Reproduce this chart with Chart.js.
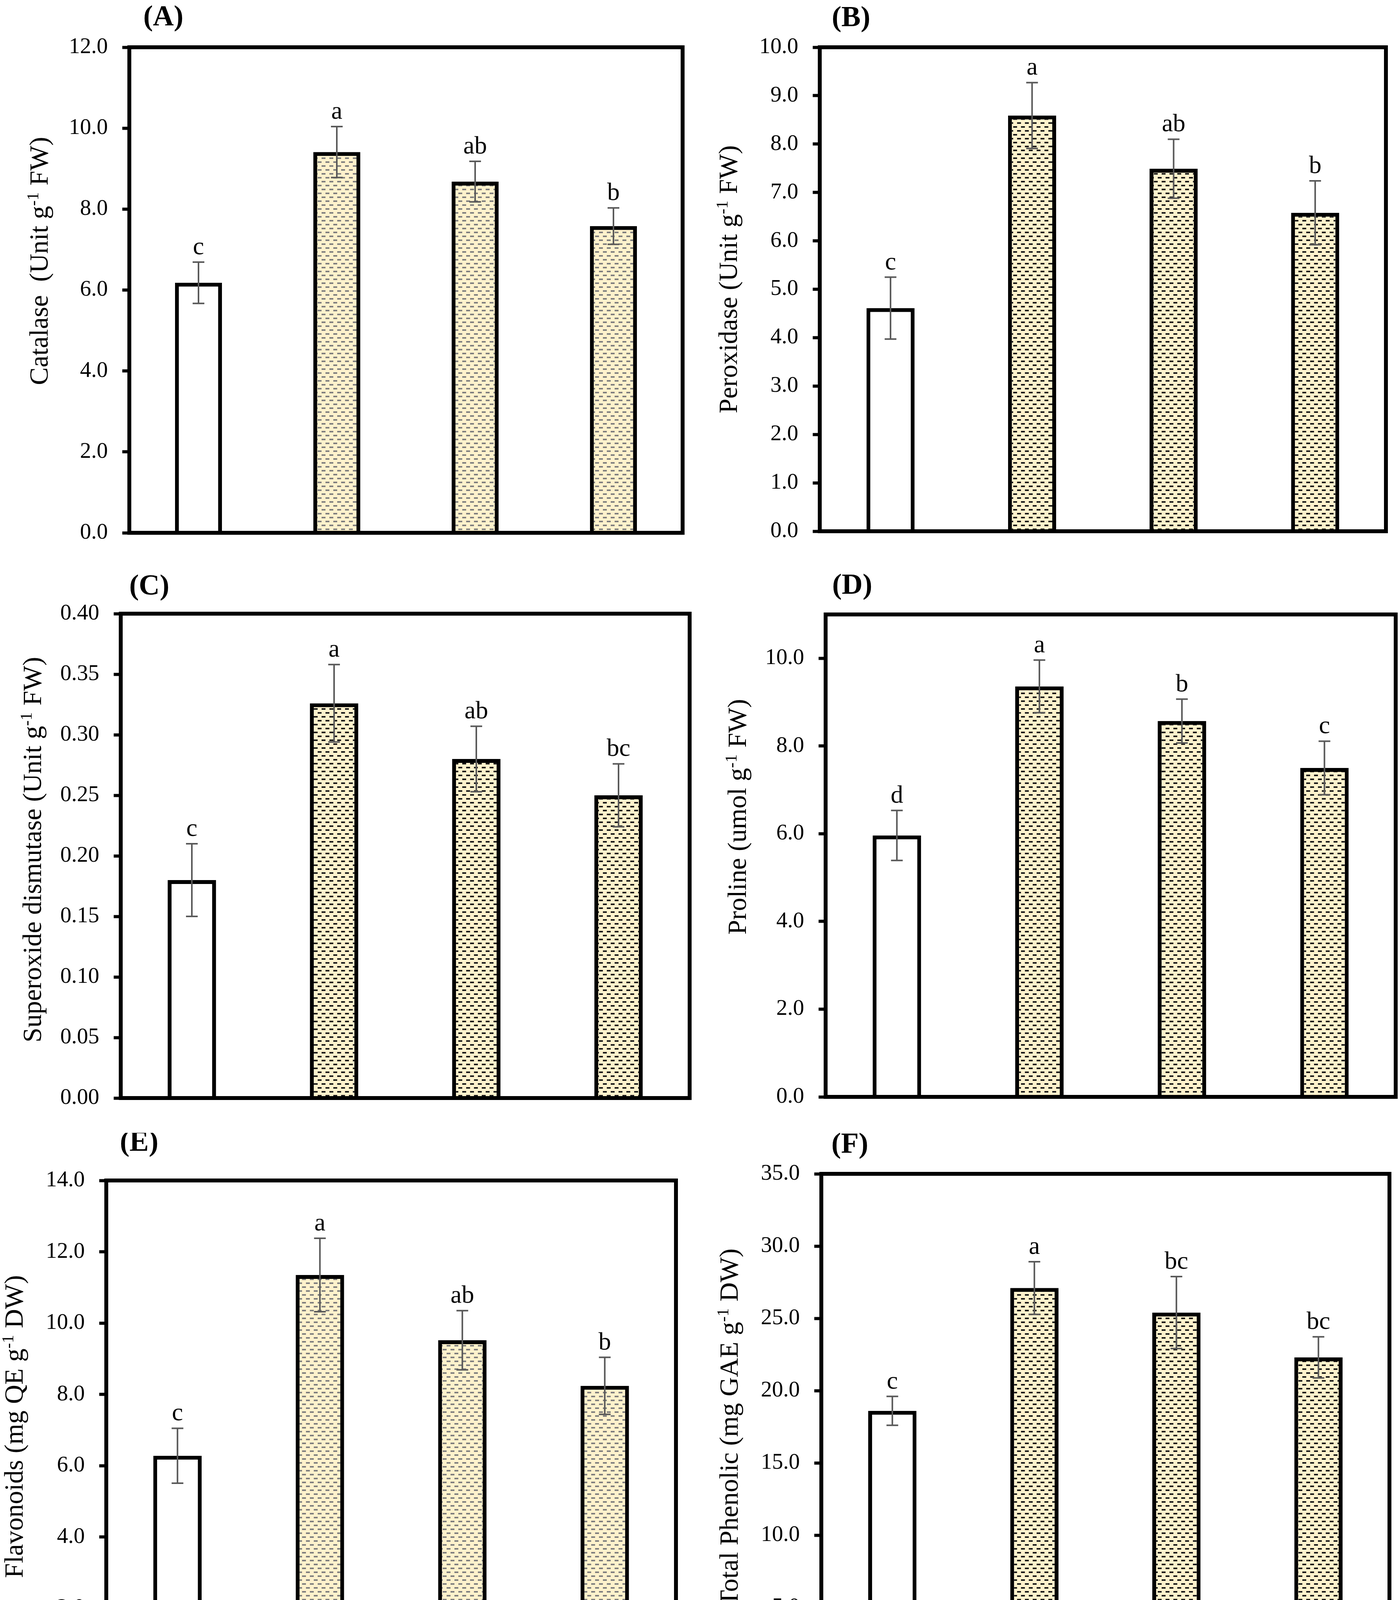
<!DOCTYPE html>
<html>
<head>
<meta charset="utf-8">
<script src="https://cdn.jsdelivr.net/npm/chart.js@4.4.0/dist/chart.umd.min.js"></script>
<style>
  html, body { margin: 0; padding: 0; background: #fff; }
  body { width: 3583px; height: 4520px; position: relative; overflow: hidden; }
  .panel { position: absolute; }
</style>
</head>
<body>
<div class="panel" style="left:0px;top:0px"><canvas id="chartA" width="1790" height="1450"></canvas></div>
<div class="panel" style="left:1790px;top:0px"><canvas id="chartB" width="1793" height="1450"></canvas></div>
<div class="panel" style="left:0px;top:1450px"><canvas id="chartC" width="1790" height="1450"></canvas></div>
<div class="panel" style="left:1790px;top:1450px"><canvas id="chartD" width="1793" height="1450"></canvas></div>
<div class="panel" style="left:0px;top:2900px"><canvas id="chartE" width="1790" height="1620"></canvas></div>
<div class="panel" style="left:1790px;top:2900px"><canvas id="chartF" width="1793" height="1620"></canvas></div>
<script>
const categories = ['NPs 0', 'NPs 75', 'NPs 150', 'NPs 300'];

// (A) catalase
const catalase = [6.18, 9.41, 8.68, 7.58];
const catalaseErr = [0.51, 0.63, 0.50, 0.45];
const catalaseLetters = ['c', 'a', 'ab', 'b'];
const catalaseAxis = [0, 12, 2];

// (B) peroxidase
const peroxidase = [4.61, 8.59, 7.49, 6.58];
const peroxidaseErr = [0.64, 0.68, 0.61, 0.66];
const peroxidaseLetters = ['c', 'a', 'ab', 'b'];
const peroxidaseAxis = [0, 10, 1];

// (C) superoxide dismutase
const sod = [0.180, 0.326, 0.280, 0.250];
const sodErr = [0.030, 0.032, 0.027, 0.026];
const sodLetters = ['c', 'a', 'ab', 'bc'];
const sodAxis = [0, 0.40, 0.05];

// (D) proline
const proline = [5.96, 9.36, 8.57, 7.50];
const prolineErr = [0.57, 0.60, 0.50, 0.61];
const prolineLetters = ['d', 'a', 'b', 'c'];
const prolineAxis = [0, 11, 2];

// (E) flavonoids
const flavonoids = [6.28, 11.35, 9.52, 8.24];
const flavonoidsErr = [0.77, 1.03, 0.83, 0.80];
const flavonoidsLetters = ['c', 'a', 'ab', 'b'];
const flavonoidsAxis = [0, 14, 2];

// (F) total phenolic
const phenolic = [18.6, 27.1, 25.4, 22.3];
const phenolicErr = [1.00, 1.82, 2.49, 1.42];
const phenolicLetters = ['c', 'a', 'bc', 'bc'];
const phenolicAxis = [0, 35, 5];

const SERIF = "'Liberation Serif', 'Times New Roman', serif";

function dashPattern(dashColor) {
    const c = document.createElement('canvas');
    c.width = 20;
    c.height = 20;
    const g = c.getContext('2d');
    g.fillStyle = '#FFF2CC';
    g.fillRect(0, 0, 20, 20);
    g.fillStyle = dashColor;
    g.fillRect(3, 3, 10, 4);
    g.fillRect(13, 13, 10, 4);
    g.fillRect(-7, 13, 10, 4);
    return g.createPattern(c, 'repeat');
}

function fontOf(p, size, weight) {
    const s = p.sup || p.sub ? Math.round(size * 0.62) : size;
    return (p.italic ? 'italic ' : '') + weight + ' ' + s + 'px ' + SERIF;
}

// text with superscript / subscript parts, centred on x, baseline at y
function drawRich(ctx, parts, x, y, size, weight, angle) {
    ctx.save();
    ctx.translate(x, y);
    ctx.rotate(angle);
    ctx.fillStyle = '#000';
    ctx.textAlign = 'left';
    ctx.textBaseline = 'alphabetic';
    let total = 0;
    parts.forEach(p => {
        ctx.font = fontOf(p, size, weight);
        total += ctx.measureText(p.t).width;
    });
    let cx = -total / 2;
    parts.forEach(p => {
        ctx.font = fontOf(p, size, weight);
        let dy = 0;
        if (p.sup) dy = -0.36 * size;
        if (p.sub) dy = 0.06 * size;
        ctx.fillText(p.t, cx, dy);
        cx += ctx.measureText(p.t).width;
    });
    ctx.restore();
}

function unitParts(name, unit, base) {
    return [{ t: name + ' (' + unit + ' g' }, { t: '-1', sup: true }, { t: ' ' + base + ')' }];
}

const xTitleParts = [
    { t: 'n', italic: true }, { t: 'CeO' }, { t: '2', sub: true },
    { t: ' concentration (mg L' }, { t: '-1', sup: true }, { t: ')' }
];

function makePanel(cfg) {
    const canvas = document.getElementById(cfg.id);
    const ctx = canvas.getContext('2d');
    const fill = dashPattern(cfg.dash);

    //boite, barres d'erreur, lettres et titres
    const decor = {
        id: 'decor_' + cfg.id,
        afterDatasetsDraw(chart) {
            const c = chart.ctx;
            const area = chart.chartArea;
            const y = chart.scales.y;
            const bars = chart.getDatasetMeta(0).data;

            c.save();
            c.strokeStyle = '#000';
            c.lineWidth = 10;
            c.strokeRect(area.left, area.top, area.right - area.left, area.bottom - area.top);

            c.strokeStyle = '#595959';
            c.lineWidth = 4;
            c.lineCap = 'butt';
            c.fillStyle = '#000';
            c.font = '64px ' + SERIF;
            c.textAlign = 'center';
            c.textBaseline = 'alphabetic';
            bars.forEach((bar, i) => {
                const v = cfg.values[i];
                const hi = y.getPixelForValue(v + cfg.err[i]);
                const lo = y.getPixelForValue(v - cfg.err[i]);
                c.beginPath();
                c.moveTo(bar.x, hi);
                c.lineTo(bar.x, lo);
                c.moveTo(bar.x - 15, hi);
                c.lineTo(bar.x + 15, hi);
                c.moveTo(bar.x - 15, lo);
                c.lineTo(bar.x + 15, lo);
                c.stroke();
                c.fillText(cfg.letters[i], bar.x, hi - 20);
            });

            c.font = 'bold 74px ' + SERIF;
            c.textBaseline = 'middle';
            c.fillText(cfg.title, cfg.titlePos[0] - cfg.offset[0], cfg.titlePos[1] - cfg.offset[1]);
            c.restore();

            drawRich(c, cfg.yTitle, cfg.yTitlePos[0] + 18 - cfg.offset[0], cfg.yTitlePos[1] - cfg.offset[1], 68, 'normal', -Math.PI / 2);
            if (cfg.xTitle) {
                drawRich(c, xTitleParts, cfg.xTitlePos[0] - cfg.offset[0], cfg.xTitlePos[1] - cfg.offset[1], 68, 'bold', 0);
            }
        }
    };

    new Chart(ctx, {
        type: 'bar',
        data: {
            labels: categories,
            datasets: [{
                data: cfg.values,
                backgroundColor: ['#ffffff', fill, fill, fill],
                borderColor: '#000000',
                borderWidth: 10,
                categoryPercentage: 1,
                barPercentage: 0.34
            }]
        },
        options: {
            responsive: false,
            animation: false,
            devicePixelRatio: 1,
            layout: { padding: cfg.padding },
            plugins: { legend: { display: false }, tooltip: { enabled: false } },
            scales: {
                x: cfg.xTitle ? {
                    afterFit: s => { s.height = 120; },
                    border: { display: false },
                    grid: { offset: true, drawOnChartArea: false, drawTicks: true, tickLength: 23, tickWidth: 8, color: '#000' },
                    ticks: {
                        padding: 12, color: '#000', maxRotation: 0, autoSkip: false,
                        font: { family: SERIF, size: 61, weight: 'bold' }
                    }
                } : { display: false },
                y: {
                    min: cfg.axis[0],
                    max: cfg.axis[1],
                    afterFit: s => { s.width = cfg.yWidth; },
                    border: { display: false },
                    grid: { drawOnChartArea: false, drawTicks: true, tickLength: 18, tickWidth: 8, color: '#000' },
                    ticks: {
                        stepSize: cfg.axis[2],
                        includeBounds: false,
                        padding: 37,
                        color: '#000',
                        font: { family: SERIF, size: 57 },
                        callback: v => Number(v).toFixed(cfg.decimals)
                    }
                }
            }
        },
        plugins: [decor]
    });
}

makePanel({
    id: 'chartA', offset: [0, 0], values: catalase, err: catalaseErr, letters: catalaseLetters,
    axis: catalaseAxis, decimals: 1, dash: '#7f7f7f', yWidth: 331,
    padding: { left: 0, right: 43, top: 121, bottom: 86 },
    title: '(A)', titlePos: [418, 46],
    yTitle: [{ t: 'Catalase  (Unit g' }, { t: '-1', sup: true }, { t: ' FW)' }], yTitlePos: [104, 668]
});

makePanel({
    id: 'chartB', offset: [1790, 0], values: peroxidase, err: peroxidaseErr, letters: peroxidaseLetters,
    axis: peroxidaseAxis, decimals: 1, dash: '#1a1a1a', yWidth: 308,
    padding: { left: 0, right: 36, top: 121, bottom: 90 },
    title: '(B)', titlePos: [2178, 48],
    yTitle: unitParts('Peroxidase', 'Unit', 'FW'), yTitlePos: [1868, 715]
});

makePanel({
    id: 'chartC', offset: [0, 1450], values: sod, err: sodErr, letters: sodLetters,
    axis: sodAxis, decimals: 2, dash: '#1a1a1a', yWidth: 309,
    padding: { left: 0, right: 25, top: 121, bottom: 89 },
    title: '(C)', titlePos: [382, 1503],
    yTitle: unitParts('Superoxide dismutase', 'Unit', 'FW'), yTitlePos: [87, 2175]
});

makePanel({
    id: 'chartD', offset: [1790, 1450], values: proline, err: prolineErr, letters: prolineLetters,
    axis: prolineAxis, decimals: 1, dash: '#1a1a1a', yWidth: 323,
    padding: { left: 0, right: 11, top: 123, bottom: 92 },
    title: '(D)', titlePos: [2181, 1501],
    yTitle: unitParts('Proline', 'umol', 'FW'), yTitlePos: [1891, 2091]
});

makePanel({
    id: 'chartE', offset: [0, 2900], values: flavonoids, err: flavonoidsErr, letters: flavonoidsLetters,
    axis: flavonoidsAxis, decimals: 1, dash: '#7f7f7f', yWidth: 272,
    padding: { left: 0, right: 60, top: 122, bottom: 100 },
    title: '(E)', titlePos: [356, 2927],
    yTitle: [{ t: 'Flavonoids (mg QE g' }, { t: '-1', sup: true }, { t: ' DW)' }], yTitlePos: [40, 3652],
    xTitle: true, xTitlePos: [1050, 4497]
});

makePanel({
    id: 'chartF', offset: [1790, 2900], values: phenolic, err: phenolicErr, letters: phenolicLetters,
    axis: phenolicAxis, decimals: 1, dash: '#1a1a1a', yWidth: 312,
    padding: { left: 0, right: 27, top: 105, bottom: 100 },
    title: '(F)', titlePos: [2175, 2932],
    yTitle: [{ t: 'Total Phenolic (mg GAE g' }, { t: '-1', sup: true }, { t: ' DW)' }], yTitlePos: [1870, 3654],
    xTitle: true, xTitlePos: [2850, 4497]
});
</script>
</body>
</html>
